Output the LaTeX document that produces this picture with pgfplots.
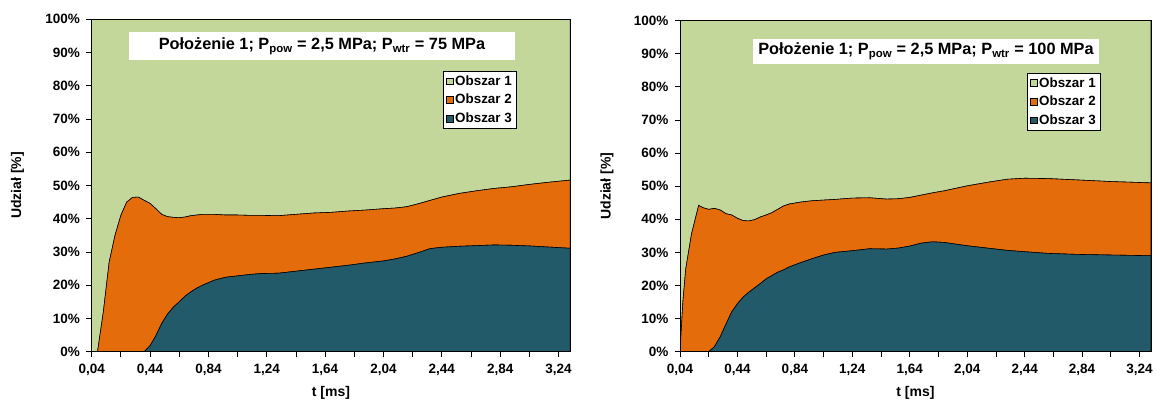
\documentclass[border=0pt]{standalone}
\usepackage{fontspec}
\setmainfont{Liberation Sans}
\usepackage{pgfplots}
\usepackage{pgfplotstable}
\pgfplotsset{compat=1.18}
\definecolor{ob1}{RGB}{196,215,155}
\definecolor{ob2}{RGB}{228,108,10}
\definecolor{ob3}{RGB}{35,90,105}

\pgfplotstableread{
t o3 o2 o1
0.04 0 0 100
0.08 0 0 100
0.12 0 12 88
0.16 0 27 73
0.20 0 35 65
0.24 0 41 59
0.28 0 45 55
0.32 0 46.4 53.6
0.36 0 46.5 53.5
0.40 0 45.5 54.5
0.44 1.8 42.8 55.4
0.48 4.8 38.2 57
0.52 8.5 32.8 58.7
0.56 11.3 29.3 59.4
0.60 13.4 27.0 59.6
0.64 15.0 25.3 59.7
0.68 16.7 23.8 59.5
0.72 18.0 22.9 59.1
0.76 19.1 22.0 58.9
0.80 20.0 21.3 58.7
0.88 21.5 19.8 58.7
0.96 22.4 18.7 58.9
1.04 22.8 18.3 58.9
1.12 23.2 17.8 59.0
1.20 23.5 17.5 59.0
1.32 23.6 17.3 59.1
1.44 24.2 17.1 58.7
1.56 24.8 16.9 58.3
1.68 25.4 16.5 58.1
1.80 26.0 16.3 57.7
1.92 26.7 15.9 57.4
2.04 27.3 15.7 57.0
2.12 27.9 15.3 56.8
2.20 28.7 14.9 56.4
2.28 29.8 14.7 55.5
2.36 31.0 14.5 54.5
2.44 31.4 15.1 53.5
2.56 31.7 15.9 52.4
2.68 31.9 16.5 51.6
2.80 32.1 17.0 50.9
2.92 32.0 17.6 50.4
3.04 31.8 18.5 49.7
3.16 31.5 19.4 49.1
3.32 31.1 20.5 48.4
}\tabL

\pgfplotstableread{
t o3 o2 o1
0.04 0 0 100
0.06 0 15 85
0.08 0 25 75
0.12 0 35.5 64.5
0.17 0 44.2 55.8
0.20 0 43.5 56.5
0.24 0 43.0 57.0
0.28 1.5 41.8 56.7
0.32 4.5 38.3 57.2
0.36 8.3 33.4 58.3
0.40 12.0 29.3 58.7
0.44 14.5 25.8 59.7
0.48 16.5 23.1 60.4
0.52 18.0 21.5 60.5
0.56 19.3 20.6 60.1
0.60 20.6 20.1 59.3
0.64 22.0 19.3 58.7
0.68 23.0 19.0 58.0
0.72 24.0 19.0 57.0
0.76 24.7 19.3 56.0
0.80 25.6 19.0 55.4
0.88 26.9 18.3 54.8
0.96 28.1 17.5 54.4
1.04 29.2 16.6 54.2
1.12 30.0 16.0 54.0
1.24 30.5 15.9 53.6
1.36 31.1 15.4 53.5
1.48 31.0 15.1 53.9
1.56 31.3 14.9 53.8
1.64 31.9 14.7 53.4
1.72 32.8 14.5 52.7
1.80 33.2 14.8 52.0
1.88 33.0 15.6 51.4
2.04 32.0 18.1 49.9
2.20 31.2 20.1 48.7
2.32 30.6 21.5 47.9
2.44 30.2 22.2 47.6
2.60 29.7 22.6 47.7
2.80 29.4 22.5 48.1
3.04 29.2 22.2 48.6
3.32 29.0 22.0 49.0
}\tabR

\pgfplotsset{ch/.style={
  scale only axis, anchor=south west,
  xmin=0.04, xmax=3.32, ymin=0, ymax=100,
  stack plots=y, axis on top,
  tick pos=left,
  xtick={0.04,0.44,0.84,1.24,1.64,2.04,2.44,2.84,3.24},
  xticklabels={{0,04},{0,44},{0,84},{1,24},{1,64},{2,04},{2,44},{2,84},{3,24}},
  minor xtick={0.24,0.64,1.04,1.44,1.84,2.24,2.64,3.04},
  ytick={0,10,20,30,40,50,60,70,80,90,100},
  yticklabels={0\%,10\%,20\%,30\%,40\%,50\%,60\%,70\%,80\%,90\%,100\%},
  tick align=outside, major tick length=5.5pt, minor tick length=5.5pt,
  every tick/.style={black, line width=0.8pt},
  axis line style={black, line width=0.8pt},
  /pgf/number format/assume math mode=true,
  ticklabel style={font=\fontsize{13.5}{15}\selectfont\bfseries},
  yticklabel style={inner sep=1pt, xshift=-5pt},
  xticklabel style={inner sep=1pt, yshift=-6pt},
  xlabel={t [ms]}, ylabel={Udział [\%]},
  every axis x label/.style={at={(axis description cs:0.5,-0.124)},anchor=center,
    font=\fontsize{14}{16}\selectfont\bfseries},
  every axis y label/.style={at={(axis description cs:-0.155,0.5)},rotate=90,anchor=center,
    font=\fontsize{14}{16}\selectfont\bfseries},
  reverse legend,
  legend style={anchor=north east, draw=black, line width=0.6pt, fill=white,
    font=\fontsize{13.4}{14}\selectfont\bfseries, inner xsep=3pt, inner ysep=2pt, row sep=3.6pt,
    cells={anchor=west}},
  legend cell align=left,
  legend image code/.code={\draw[#1,draw=black,line width=0.5pt] (0pt,-3.2pt) rectangle (6.4pt,3.2pt);},
  every axis plot/.append style={draw=black, line width=0.6pt},
}}

\begin{document}
\begin{tikzpicture}
\useasboundingbox (0,0) rectangle (1160pt,401pt);
\begin{axis}[ch, at={(91.7pt,49.3pt)}, width=478.5pt, height=332.5pt,
  legend style={at={(0.889,0.844)}}]
\addplot[fill=ob3] table[x=t,y=o3]{\tabL} \closedcycle;
\addlegendentry{Obszar 3}
\addplot[fill=ob2] table[x=t,y=o2]{\tabL} \closedcycle;
\addlegendentry{Obszar 2}
\addplot[fill=ob1] table[x=t,y=o1]{\tabL} \closedcycle;
\addlegendentry{Obszar 1}
\end{axis}
\begin{axis}[ch, at={(680pt,49.3pt)}, width=471pt, height=331pt,
  legend style={at={(0.894,0.842)}}]
\addplot[fill=ob3] table[x=t,y=o3]{\tabR} \closedcycle;
\addlegendentry{Obszar 3}
\addplot[fill=ob2] table[x=t,y=o2]{\tabR} \closedcycle;
\addlegendentry{Obszar 2}
\addplot[fill=ob1] table[x=t,y=o1]{\tabR} \closedcycle;
\addlegendentry{Obszar 1}
\end{axis}
\node[fill=white, minimum width=386pt, minimum height=27.5pt, inner sep=0pt,
  font=\fontsize{16.3}{18}\selectfont\bfseries]
  at (322pt,354.8pt)
  {Położenie 1; P\textsubscript{pow} = 2,5 MPa; P\textsubscript{wtr} = 75 MPa};
\node[fill=white, minimum width=346pt, minimum height=25pt, inner sep=0pt,
  font=\fontsize{16.3}{18}\selectfont\bfseries]
  at (926pt,349.5pt)
  {Położenie 1; P\textsubscript{pow} = 2,5 MPa; P\textsubscript{wtr} = 100 MPa};
\end{tikzpicture}
\end{document}
